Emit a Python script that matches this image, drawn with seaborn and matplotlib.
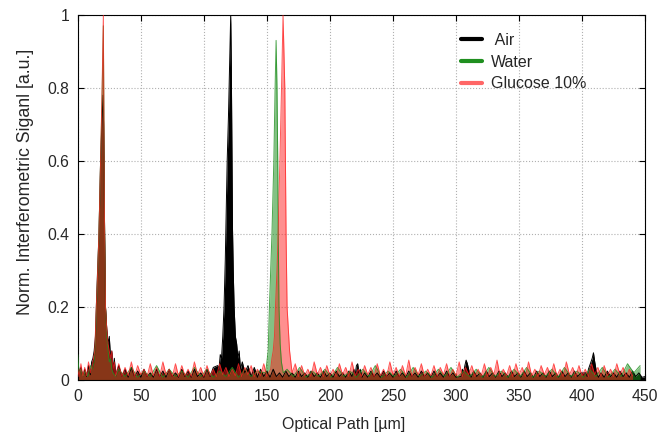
import numpy as np
import pandas as pd
import matplotlib
matplotlib.use("Agg")
import matplotlib.pyplot as plt
from matplotlib.lines import Line2D
import seaborn as sns

# ---------------- data ----------------
series_names = ["Air", "Water", "Glucose 10%"]

# Air (black)
air_peak1_x = [0, 1, 2.5, 4, 5.5, 7, 8.5, 10, 11, 12, 13, 14, 14.7, 15.5, 16.8, 18.1, 19.3, 20, 20.5, 20.8, 21.3, 22, 23, 24, 25, 26, 27, 28, 29, 30]
air_peak1_y = [.06, .02, .035, .01, .03, .01, .04, .015, .05, .06, .08, .12, .20, .28, .40, .60, .72, .78, .70, .60, .40, .20, .14, .10, .12, .06, .08, .03, .06, .015]
air_noise1_y = [.04, .01, .03, .008, .035, .01, .025, .008, .03, .01, .02, .008, .03, .01, .025, .008, .03, .01, .02, .008, .03, .01, .025, .008, .03, .01, .02, .008, .03, .01, .035]  # from 32.5
air_peak2_x = [111, 112, 113, 114, 115, 116, 117, 117.5, 118.5, 119.5, 120.3, 121.3, 121.8, 122.3, 122.7, 123.3, 124, 125, 126, 127, 128, 129, 130.5]
air_peak2_y = [.04, .03, .07, .06, .12, .20, .33, .42, .60, .72, .85, 1.0, .85, .62, .42, .30, .20, .12, .10, .06, .08, .03, .05]
air_noise2_y = [.02, .04, .01, .035, .008, .03, .01, .025, .008, .03, .01, .02, .008, .025, .01, .02, .008, .025, .01, .02, .008, .025, .01, .02, .008, .025, .01, .02, .008, .025, .01, .02, .008, .025, .01]  # from 132.5
air_bump1_x = [219, 220, 221, 222, 223, 224, 225.5]
air_bump1_y = [.03, .015, .04, .045, .02, .03, .008]
air_noise3_y = [.02, .008, .025, .01, .02, .008, .025, .01, .02, .008, .025, .01, .02, .008, .025, .01, .02, .008, .025, .01, .02, .008, .025, .01, .02, .008, .025, .01, .02, .008]  # from 227.5
air_bump2_x = [304, 305, 306, 307, 308, 309, 310, 311, 312]
air_bump2_y = [.01, .03, .02, .04, .055, .045, .03, .015, .008]
air_noise4_y = [.025, .01, .02, .008, .025, .01, .02, .008, .025, .01, .02, .008, .025, .01, .02, .008, .025, .01, .02, .008, .025, .01, .02, .008, .025, .01, .02, .008, .025, .01, .02, .008, .025, .01, .02]  # from 314
air_bump3_x = [403, 404, 405, 406, 407, 408, 409, 410, 411, 412, 413]
air_bump3_y = [.02, .01, .03, .04, .05, .06, .075, .05, .03, .015, .008]
air_noise5_y = [.02, .008, .025, .01, .02, .008, .025, .01, .02, .008, .025, .01, .02, .008, .01]  # from 415

# Water (green)
water_peak1_x = [0, 1, 2.5, 4, 6, 8, 10, 11.5, 13, 14, 14.7, 15.5, 16.8, 18.1, 19.3, 20.3, 20.8, 21.3, 22, 23, 24, 25, 26, 27, 28, 30]
water_peak1_y = [.07, .02, .03, .01, .025, .01, .04, .03, .05, .10, .18, .26, .40, .60, .78, .97, .62, .40, .20, .12, .08, .05, .06, .03, .02, .01]
water_noise1_y = [.03, .01, .035, .008, .025, .01, .04, .008, .03, .01, .025, .008, .035, .01, .03, .008, .025, .01, .035, .008, .03, .01, .025]  # from 32.5 step 5
water_peak2_x = [149, 150, 151, 152, 153, 154, 155.5, 156.5, 157.3, 158, 158.6, 159, 159.6, 160.5, 161.5, 163]
water_peak2_y = [.02, .05, .08, .20, .30, .40, .60, .80, .93, .80, .60, .40, .20, .10, .05, .02]
water_noise2_y = [.03, .01, .035, .008, .025, .01, .03, .008, .035, .01, .025, .008, .03, .01, .04, .008, .025, .01, .03, .008, .035, .01, .025, .008, .03, .01, .035, .008, .025, .01, .03, .008, .035, .01, .025, .008, .03, .01, .035, .008, .025, .01, .03, .008, .035, .01, .025, .008, .03, .01, .035, .008, .03, .01, .045, .02, .04]  # from 166 step 5

# Glucose 10% (red)
glu_peak1_x = [0, 1, 2.5, 4, 5.5, 7, 8.5, 10, 11.5, 12.5, 13.5, 14.7, 15.5, 16.8, 18.1, 19.3, 20.3, 20.8, 21.3, 22, 23, 24, 25, 26, 27, 28, 29, 30]
glu_peak1_y = [.03, .01, .045, .01, .035, .012, .05, .02, .04, .06, .08, .20, .27, .40, .60, .80, 1.0, .62, .40, .20, .14, .10, .08, .06, .08, .03, .05, .012]
glu_noise1_y = [.045, .01, .035, .012, .05, .01, .04, .015, .03, .01, .045, .012,
                .035, .01, .05, .015, .03, .01, .045, .01, .04, .012, .03, .01,
                .05, .015, .035, .01, .04, .012, .03, .01, .045, .015, .035, .01,
                .03, .012, .045, .01, .035, .015, .04, .01, .03, .012, .045, .01]  # from 32.5 step 2.5
glu_peak2_x = [153, 154, 155, 156, 156.8, 158, 158.9, 160.3, 161.6, 162.8, 164.2, 164.7, 165.2, 166, 167, 168, 169, 170]
glu_peak2_y = [.03, .06, .08, .12, .20, .30, .40, .60, .80, 1.0, .80, .60, .40, .20, .14, .08, .05, .02]
glu_noise2_y = [.045, .01, .04, .012, .03, .01, .05, .015, .035, .01, .04, .012,
                .03, .01, .045, .015, .035, .01, .05, .012, .03, .01, .04, .015,
                .035, .01, .045, .012, .03, .01, .05, .015, .035, .01, .04, .012,
                .055, .01, .035, .015, .045, .01, .03, .012, .04, .01, .035, .015,
                .045, .01, .03, .012, .05, .01, .035, .015, .04, .01, .03, .012,
                .045, .01, .035, .015, .055, .01, .03, .012, .04, .01, .045, .015,
                .035, .01, .05, .012, .03, .01, .04, .015, .035, .01, .045, .012,
                .03, .01, .05, .015, .035, .01, .04, .012, .03, .01, .045, .015,
                .035, .01, .04, .012, .03, .01, .045, .015, .035, .01, .03, .012]  # from 172.5 step 2.5

x_ticks = [0, 50, 100, 150, 200, 250, 300, 350, 400, 450]
y_ticks = [0, 0.2, 0.4, 0.6, 0.8, 1]
y_tick_labels = ["0", "0.2", "0.4", "0.6", "0.8", "1"]
colors = {"Air": "#000000", "Water": "#1f8f1f", "Glucose 10%": "#ff2020"}
legend_colors = {"Air": "#000000", "Water": "#1f8f1f", "Glucose 10%": "#ff6666"}


def seg(start, ys, step):
    return [start + step * i for i in range(len(ys))], list(ys)


def build(parts):
    xs, ys = [], []
    for px, py in parts:
        xs += list(px)
        ys += list(py)
    order = np.argsort(xs, kind="stable")
    return np.array(xs)[order], np.array(ys)[order]


air_x, air_y = build([(air_peak1_x, air_peak1_y), seg(32.5, air_noise1_y, 2.5),
                      (air_peak2_x, air_peak2_y), seg(132.5, air_noise2_y, 2.5),
                      (air_bump1_x, air_bump1_y), seg(227.5, air_noise3_y, 2.5),
                      (air_bump2_x, air_bump2_y), seg(314, air_noise4_y, 2.5),
                      (air_bump3_x, air_bump3_y), seg(415, air_noise5_y, 2.5)])
water_x, water_y = build([(water_peak1_x, water_peak1_y), seg(32.5, water_noise1_y, 5),
                          (water_peak2_x, water_peak2_y), seg(166, water_noise2_y, 5)])
glu_x, glu_y = build([(glu_peak1_x, glu_peak1_y), seg(32.5, glu_noise1_y, 2.5),
                      (glu_peak2_x, glu_peak2_y), seg(172.5, glu_noise2_y, 2.5)])

df = pd.concat([
    pd.DataFrame({"path": air_x, "signal": air_y, "sample": "Air"}),
    pd.DataFrame({"path": water_x, "signal": water_y, "sample": "Water"}),
    pd.DataFrame({"path": glu_x, "signal": glu_y, "sample": "Glucose 10%"}),
], ignore_index=True)

# ---------------- plot ----------------
sns.set_style("ticks")
plt.rcParams["font.family"] = ["Liberation Sans", "DejaVu Sans"]

fig = plt.figure(figsize=(6.59, 4.36), dpi=100)
ax = fig.add_axes([0.118, 0.128, 0.861, 0.838])

fill_alpha = {"Air": 1.0, "Water": 0.55, "Glucose 10%": 0.5}
line_alpha = {"Air": 1.0, "Water": 0.8, "Glucose 10%": 0.75}
for name in series_names:
    sub = df[df["sample"] == name]
    ax.fill_between(sub["path"], 0, sub["signal"], color=colors[name],
                    alpha=fill_alpha[name], lw=0, zorder=2)
    sns.lineplot(data=sub, x="path", y="signal", color=colors[name], lw=0.7,
                 alpha=line_alpha[name], estimator=None, sort=False, ax=ax,
                 zorder=3, legend=False)

ax.set_xlim(0, 450)
ax.set_ylim(0, 1)
ax.set_xticks(x_ticks)
ax.set_yticks(y_ticks)
ax.set_yticklabels(y_tick_labels)
ax.grid(True, color="#b0b0b0", linestyle=":", linewidth=0.8, zorder=0)
ax.set_axisbelow(True)
ax.tick_params(direction="in", top=True, right=True, length=4, labelsize=11.3,
               pad=6, color="black")
for sp in ax.spines.values():
    sp.set_color("black")
    sp.set_linewidth(0.8)

ax.set_xlabel("Optical Path [µm]", fontsize=11.5)
ax.xaxis.set_label_coords(0.468, -0.1)
ax.set_ylabel("Norm. Interferometric Siganl [a.u.]", fontsize=12.8)
ax.yaxis.set_label_coords(-0.077, 0.542)

handles = [Line2D([0], [0], color=legend_colors[n], lw=3) for n in series_names]
labels = [" Air", "Water", "Glucose 10%"]
ax.legend(handles, labels, loc="upper left", bbox_to_anchor=(0.65, 0.99),
          frameon=False, fontsize=11.5, handlelength=1.3, handletextpad=0.6,
          labelspacing=0.42)

fig.savefig("out.png", dpi=100)
